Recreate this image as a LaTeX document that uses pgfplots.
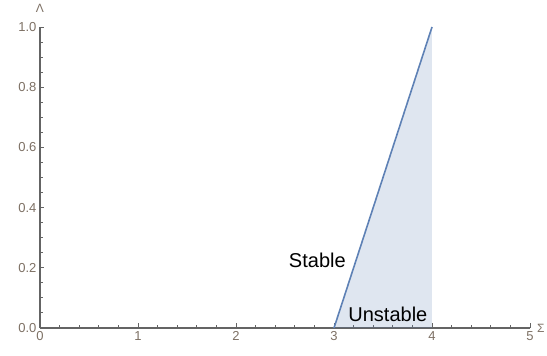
\documentclass[border=0pt]{standalone}
\usepackage{pgfplots}
\pgfplotsset{compat=1.18}
\usepackage{fontspec}
\setmainfont{Liberation Sans}
\definecolor{mline}{RGB}{94,129,181}
\definecolor{maxis}{RGB}{100,100,100}
\definecolor{mtick}{RGB}{125,112,100}
\begin{document}
\begin{tikzpicture}
\begin{axis}[
  scale only axis,
  width=490pt, height=301pt,
  xmin=0, xmax=5, ymin=0, ymax=1,
  axis lines=left,
  axis line style={-, maxis, line width=1.3pt},
  tick align=inside,
  major tick length=4.5pt,
  minor tick length=2.8pt,
  every tick/.style={maxis, line width=0.9pt},
  xtick={0,1,2,3,4,5},
  ytick={0,0.2,0.4,0.6,0.8,1.0},
  minor x tick num=4,
  minor y tick num=3,
  yticklabel style={/pgf/number format/.cd, fixed, fixed zerofill, precision=1},
  /pgf/number format/assume math mode=true,
  tick label style={font=\fontsize{13}{15}\selectfont, text=mtick},
  clip=false,
]
\addplot[draw=none, fill=mline, fill opacity=0.2] coordinates {(3,0) (4,1) (4,0)} -- cycle;
\addplot[mline, line width=1.6pt] coordinates {(3,0) (4,1)};
\node[font=\fontsize{20}{22}\selectfont] at (axis cs:2.83,0.226) {Stable};
\node[font=\fontsize{20}{22}\selectfont] at (axis cs:3.55,0.045) {Unstable};
\node[font=\fontsize{12}{14}\selectfont, text=mtick] at (axis cs:0,1.063) {Λ};
\node[font=\fontsize{12}{14}\selectfont, text=mtick] at (axis cs:5.11,0) {Σ};
\end{axis}
\pgfresetboundingbox
\path[use as bounding box] (-40pt,-28pt) rectangle (507pt,328pt);
\end{tikzpicture}
\end{document}
